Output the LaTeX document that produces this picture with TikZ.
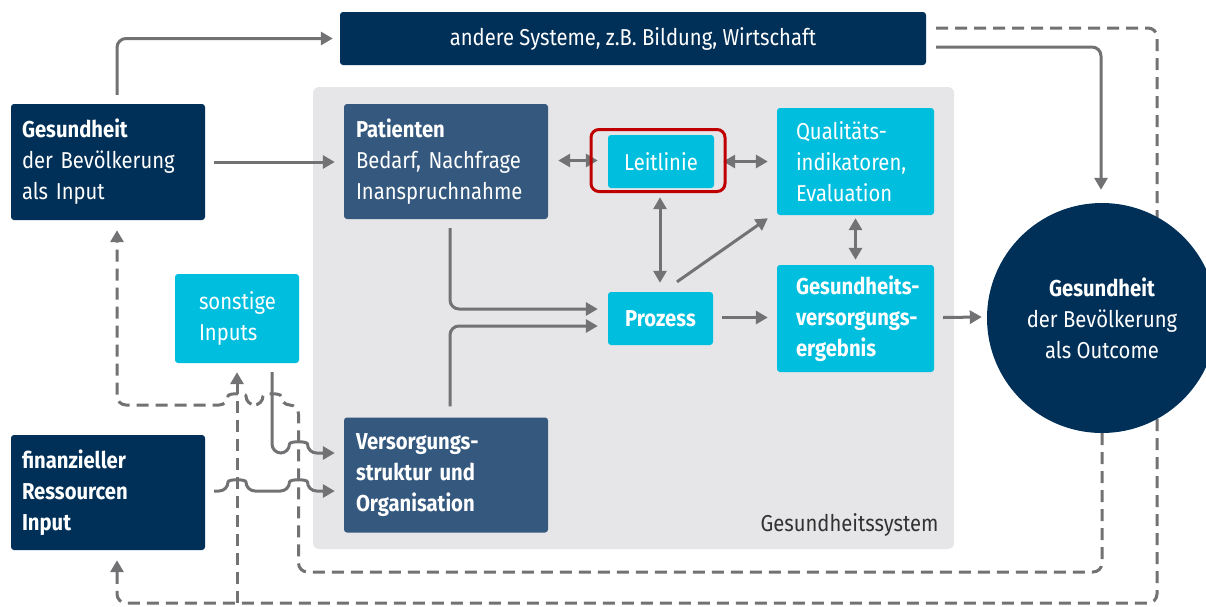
\documentclass[tikz,border=0pt]{standalone}
\usepackage{fontspec}
\setmainfont{Fira Sans}[FakeStretch=0.88]
\usetikzlibrary{arrows.meta,calc}
\definecolor{navy}{RGB}{0,48,88}
\definecolor{slate}{RGB}{52,88,126}
\definecolor{cyanc}{RGB}{0,190,222}
\definecolor{bggray}{RGB}{230,230,232}
\definecolor{linegray}{RGB}{114,114,116}
\definecolor{framered}{RGB}{192,0,0}
\definecolor{txtgray}{RGB}{50,50,50}
\pgfdeclarelayer{bglayer}
\pgfdeclarelayer{lines}
\pgfsetlayers{bglayer,lines,main}
\hyphenpenalty=10000
\exhyphenpenalty=10000
\begin{document}
\begin{tikzpicture}[x=1pt,y=-1pt,
  every node/.style={font=\fontsize{23}{31}\selectfont, text=white},
  boxbase/.style={rectangle, rounded corners=3pt, inner ysep=0pt, align=left},
  navybox/.style={boxbase, fill=navy},
  slatebox/.style={boxbase, fill=slate},
  cyanbox/.style={boxbase, fill=cyanc},
  arr/.style={draw=linegray, line width=3pt, -{Triangle[length=12pt,width=13pt]}, rounded corners=9pt},
  darr/.style={arr, dash pattern=on 12pt off 7pt},
  biarr/.style={draw=linegray, line width=3pt, {Triangle[length=12pt,width=13pt]}-{Triangle[length=12pt,width=13pt]}},
]
\useasboundingbox (0,0) rectangle (1206,606);

\begin{pgfonlayer}{bglayer}
\node[fill=bggray, rounded corners=6pt, minimum width=641pt, minimum height=462pt, inner sep=0pt] (sys) at (633.5,318) {};
\end{pgfonlayer}
\node[text=txtgray, anchor=base east] (syslabel) at (942,531) {Gesundheitssystem};

\node[navybox, minimum width=586pt, minimum height=53pt, align=center] (and) at (633,38.5) {andere~Systeme,~z.B.~Bildung,~Wirtschaft};

\node[navybox, text width=172pt, inner xsep=11pt, minimum height=116pt] (gin) at (108,162) {\textbf{Gesundheit}\\der~Bevölkerung\\als~Input};
\node[navybox, text width=172pt, inner xsep=11pt, minimum height=115pt] (fin) at (108,492.5) {\textbf{finanzieller}\\\textbf{Ressourcen}\\\textbf{Input}};

\node[slatebox, text width=180pt, inner xsep=12pt, minimum height=115pt] (pat) at (446,161.5) {\textbf{Patienten}\\Bedarf,~Nachfrage\\Inanspruchnahme};
\node[slatebox, text width=180pt, inner xsep=12pt, minimum height=115pt] (ver) at (446,475) {\textbf{Versorgungs-}\\\textbf{struktur~und}\\\textbf{Organisation}};

\node[cyanbox, minimum width=106pt, minimum height=53pt, align=center] (lei) at (661,161.5) {Leitlinie};
\node[cyanbox, minimum width=105pt, minimum height=53pt, align=center] (pro) at (660.5,318.5) {\textbf{Prozess}};

\node[cyanbox, text width=119pt, inner xsep=19pt, minimum height=107pt] (qua) at (855.5,161.5) {Qualitäts-\\indikatoren,\\Evaluation};
\node[cyanbox, text width=119pt, inner xsep=19pt, minimum height=107pt] (erg) at (855.5,318.5) {\textbf{Gesundheits-}\\\textbf{versorgungs-}\\\textbf{ergebnis}};

\node[cyanbox, text width=76pt, inner xsep=24pt, minimum height=89pt] (son) at (237,318.5) {sonstige\\Inputs};

\node[circle, fill=navy, minimum size=230pt, inner sep=0pt, align=center] (out) at (1102,318) {\textbf{Gesundheit}\\der~Bevölkerung\\als~Outcome};

\node[draw=framered, line width=3pt, rounded corners=8pt, minimum width=134pt, minimum height=62pt, inner sep=0pt] (frame) at (658,160.5) {};

\coordinate (br) at (237,603);

\begin{pgfonlayer}{lines}
% dashed feedback lines
\draw[darr] (out.south) -- (1102,572) -- (298.5,572) -- (298.5,405) -- (281,405)
  .. controls (281,393) and (263,393) .. (263,405) -- (246,405)
  .. controls (246,393) and (228,393) .. (228,405) -- (117,405) -- ($(gin.south)+(9,10)$);
\draw[darr] ($(and.east)+(10,-10.5)$) -- (1157,28) -- (1157,603) -- (117,603) -- ($(fin.south)+(9,10)$);
\draw[darr] (br) -- ($(son.south)+(0,9)$);

% solid connectors
\draw[arr] ($(gin.north)+(9,-9)$) |- ($(and.west)+(-7,0)$);
\draw[arr] ($(and.east)+(10,8.5)$) -| ($(out.north)+(-1,-13)$);
\draw[arr] ($(gin.east)+(9,0)$) -- ($(pat.west)+(-9,0.5)$);
\draw[biarr] ($(pat.east)+(10,-1)$) -- ($(lei.west)+(-10,-1)$);
\draw[biarr] ($(lei.east)+(9,0)$) -- ($(qua.west)+(-9,0)$);
\draw[biarr] ($(lei.south)+(-1,9)$) -- ($(pro.north)+(-0.5,-9)$);
\draw[arr] ($(pro.north)+(16.5,-10)$) -- ($(qua.south west)+(-9,3)$);
\draw[biarr] ($(qua.south)+(0,3)$) -- ($(erg.north)+(0,-5)$);
\draw[arr] ($(pro.east)+(9,-1)$) -- ($(erg.west)+(-9,-1)$);
\draw[arr] ($(erg.east)+(9,-1)$) -- ($(out.west)+(-5,-1)$);
\draw[arr] ($(pat.south)+(4,9)$) |- ($(pro.west)+(-10,-9.5)$);
\draw[arr] ($(ver.north)+(4,-11)$) |- ($(pro.west)+(-10,7.5)$);
\draw[arr] ($(son.south)+(35,9)$) -- (272,453) -- (289.5,453)
  .. controls (289.5,441) and (307.5,441) .. (307.5,453) -- ($(ver.west)+(-9,-22)$);
\draw[arr] ($(fin.east)+(9,-1.5)$) -- (228,491)
  .. controls (228,479) and (246,479) .. (246,491) -- (289.5,491)
  .. controls (289.5,479) and (307.5,479) .. (307.5,491) -- ($(ver.west)+(-9,16)$);
\end{pgfonlayer}
\end{tikzpicture}
\end{document}
